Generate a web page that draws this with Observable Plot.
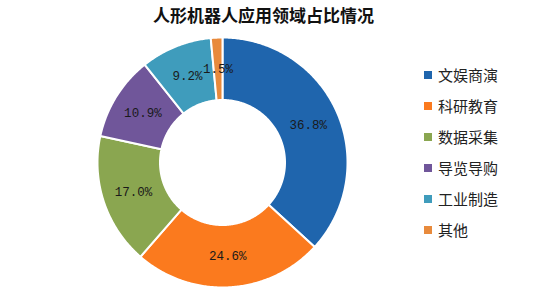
<!DOCTYPE html>
<html>
<head>
<meta charset="utf-8">
<script src="https://cdn.jsdelivr.net/npm/d3@7"></script>
<script src="https://cdn.jsdelivr.net/npm/@observablehq/plot@0.6"></script>
<style>
  body { margin: 0; background: #fff; }
  #wrap { position: relative; width: 556px; height: 292px; overflow: hidden; font-family: "Noto Sans CJK SC", sans-serif; }
  #title { width: 527px; height: 28px; line-height: 30px; text-align: center; font-size: 17px; font-weight: bold; color: #111; }
  #legend { position: absolute; left: 424px; top: 59px; }
  .item { height: 31px; display: flex; align-items: center; font-size: 15px; color: #222; }
  .sw { width: 8px; height: 8px; margin-right: 6px; }
</style>
</head>
<body>
<div id="wrap">
  <div id="title">人形机器人应用领域占比情况</div>
  <div id="chart"></div>
  <div id="legend"></div>
</div>
<script>
const categories = ["文娱商演", "科研教育", "数据采集", "导览导购", "工业制造", "其他"];
const values = [36.8, 24.6, 17.0, 10.9, 9.2, 1.5];
const colors = ["#1f65ad", "#fb7a1e", "#8aa650", "#70569a", "#3f9cbc", "#e88a3c"];

const data = categories.map((c, i) => ({ cat: c, value: values[i] }));
const arcs = d3.pie().sort(null).value(d => d.value)(data);
const inner = 0.5, outer = 1;

const pts = [];
for (const a of arcs) {
  const n = Math.max(2, Math.ceil((a.endAngle - a.startAngle) / 0.01));
  const ring = [];
  for (let k = 0; k <= n; k++) {
    const t = a.startAngle + (a.endAngle - a.startAngle) * k / n;
    ring.push({ cat: a.data.cat, x: outer * Math.sin(t), y: outer * Math.cos(t) });
  }
  for (let k = n; k >= 0; k--) {
    const t = a.startAngle + (a.endAngle - a.startAngle) * k / n;
    ring.push({ cat: a.data.cat, x: inner * Math.sin(t), y: inner * Math.cos(t) });
  }
  ring.push(ring[0]);
  pts.push(...ring);
}

const labels = arcs.map(a => {
  const m = (a.startAngle + a.endAngle) / 2, r = (inner + outer) / 2;
  return { x: r * Math.sin(m), y: r * Math.cos(m), text: a.data.value.toFixed(1) + "%" };
});

const cx = 222, cy = 134, R = 125;
const chart = Plot.plot({
  width: 556,
  height: 264,
  margin: 0,
  x: { domain: [-1, 1], range: [cx - R, cx + R], axis: null },
  y: { domain: [-1, 1], range: [cy + R, cy - R], axis: null },
  color: { domain: categories, range: colors },
  style: { background: "transparent" },
  marks: [
    Plot.line(pts, { x: "x", y: "y", z: "cat", fill: "cat", stroke: "white", strokeWidth: 2, strokeLinejoin: "round", curve: "linear" }),
    Plot.text(labels, { x: "x", y: "y", text: "text", fill: "#1a1a1a", fontSize: 12.5, fontFamily: "Liberation Mono, DejaVu Sans Mono, monospace" })
  ]
});
document.getElementById("chart").appendChild(chart);

const legend = d3.select("#legend");
categories.forEach((c, i) => {
  const row = legend.append("div").attr("class", "item");
  row.append("div").attr("class", "sw").style("background", colors[i]);
  row.append("span").text(c);
});
</script>
</body>
</html>
